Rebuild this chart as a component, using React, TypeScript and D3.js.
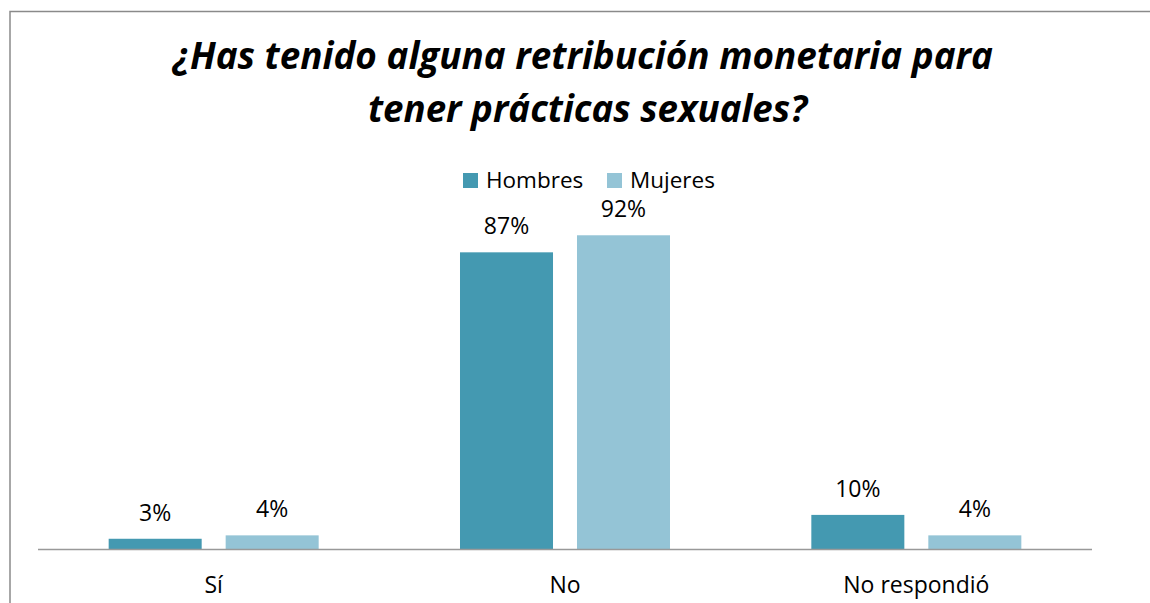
import React from "react";
import * as d3 from "d3";

const titleLines = ["¿Has tenido alguna retribución monetaria para", "tener prácticas sexuales?"];
const categories = ["Sí", "No", "No respondió"];
const seriesNames = ["Hombres", "Mujeres"];
const hombres = [0.03, 0.87, 0.10];
const mujeres = [0.04, 0.92, 0.04];
const seriesColors = ["#4499B1", "#94C4D6"];

const FONT = "'Open Sans', 'Noto Sans', sans-serif";

export default function App() {
  const W = 1150, H = 603;
  const axisLeft = 38, axisRight = 1092, baseY = 549;
  const x0 = d3.scaleBand<string>().domain(categories).range([axisLeft, axisRight]);
  const x1 = d3
    .scaleBand<string>()
    .domain(seriesNames)
    .range([0, x0.bandwidth()])
    .paddingInner(0.205)
    .paddingOuter(0.604);
  const y = d3.scaleLinear().domain([0, 1]).range([baseY, 208]);
  const values = [hombres, mujeres];
  const fmt = d3.format(".0%");

  const legendItems = [
    { x: 463, textX: 486 },
    { x: 607, textX: 630 },
  ];

  return (
    <svg
      width={W}
      height={H}
      style={{ position: "absolute", left: 0, top: 0, background: "#fff" }}
      fontFamily={FONT}
    >
      <rect x={0} y={0} width={W} height={H} fill="#fff" />
      <path d="M10,603 V11.5 H1150" fill="none" stroke="#8a8a8a" strokeWidth={1.5} />

      {/* Title */}
      <text
        x={583}
        y={69}
        textAnchor="middle"
        fontSize={37}
        fontWeight="bold"
        fontStyle="italic"
        fill="#000"
        textLength={820}
        lengthAdjust="spacingAndGlyphs"
      >
        {titleLines[0]}
      </text>
      <text
        x={587.5}
        y={122}
        textAnchor="middle"
        fontSize={37}
        fontWeight="bold"
        fontStyle="italic"
        fill="#000"
        textLength={439}
        lengthAdjust="spacingAndGlyphs"
      >
        {titleLines[1]}
      </text>

      {/* Legend */}
      {seriesNames.map((s, i) => (
        <g key={s}>
          <rect x={legendItems[i].x} y={173} width={15} height={15} fill={seriesColors[i]} />
          <text x={legendItems[i].textX} y={188} fontSize={22.5} fill="#000">
            {s}
          </text>
        </g>
      ))}

      {/* Bars */}
      {categories.map((c, ci) => (
        <g key={c} transform={`translate(${x0(c)},0)`}>
          {seriesNames.map((s, si) => {
            const v = values[si][ci];
            const bx = x1(s)!;
            const bw = x1.bandwidth();
            return (
              <g key={s}>
                <rect x={bx} y={y(v)} width={bw} height={baseY - y(v)} fill={seriesColors[si]} />
                <text
                  x={bx + bw / 2}
                  y={y(v) - 18}
                  textAnchor="middle"
                  fontSize={23}
                  fill="#000"
                >
                  {fmt(v)}
                </text>
              </g>
            );
          })}
        </g>
      ))}

      {/* Axis */}
      <line x1={axisLeft} x2={axisRight} y1={baseY + 0.5} y2={baseY + 0.5} stroke="#999" strokeWidth={1.5} />
      {categories.map((c) => (
        <text
          key={c}
          x={x0(c)! + x0.bandwidth() / 2}
          y={593}
          textAnchor="middle"
          fontSize={23}
          fill="#000"
        >
          {c}
        </text>
      ))}
    </svg>
  );
}
